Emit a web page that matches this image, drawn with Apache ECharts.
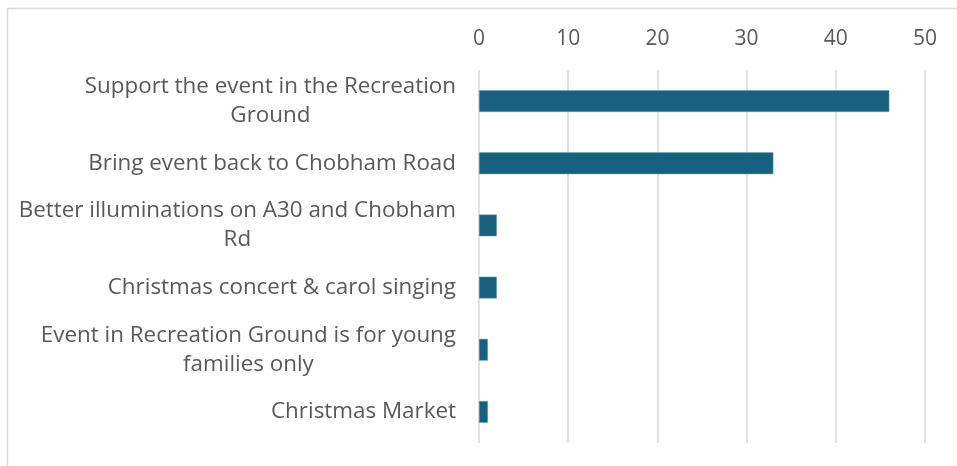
<!DOCTYPE html>
<html>
<head>
<meta charset="utf-8">
<script src="https://cdn.jsdelivr.net/npm/echarts@6/dist/echarts.min.js"></script>
<style>
  html, body { margin: 0; padding: 0; background: #fff; }
  #chart { width: 957px; height: 466px; }
</style>
</head>
<body>
<div id="chart"></div>
<script>
// categories top to bottom
const categories = [
  'Support the event in the Recreation\nGround',
  'Bring event back to Chobham Road',
  'Better illuminations on A30 and Chobham\nRd',
  'Christmas concert & carol singing',
  'Event in Recreation Ground is for young\nfamilies only',
  'Christmas Market'
];
const values = [46, 33, 2, 2, 1, 1];
const axisMin = 0;
const axisMax = 50;
const axisStep = 10;

const chart = echarts.init(document.getElementById('chart'));

const option = {
  animation: false,
  textStyle: { fontFamily: 'Open Sans' },
  graphic: [{
    type: 'rect',
    shape: { x: 7.5, y: 8.5, width: 1200, height: 1200 },
    style: { fill: 'none', stroke: '#d9d9d9', lineWidth: 1.5 },
    silent: true
  }],
  grid: { left: 479, right: 32, top: 70, bottom: 23 },
  xAxis: {
    type: 'value',
    position: 'top',
    min: axisMin,
    max: axisMax,
    interval: axisStep,
    axisLine: { show: false },
    axisTick: { show: false },
    splitLine: { lineStyle: { color: '#d9d9d9', width: 1.5 } },
    axisLabel: { color: '#595959', fontSize: 21, margin: 20 }
  },
  yAxis: {
    type: 'category',
    inverse: true,
    data: categories,
    axisLine: { show: false },
    axisTick: { show: false },
    axisLabel: {
      color: '#595959',
      fontSize: 22,
      margin: 23,
      lineHeight: 29,
      formatter: function (v) {
        return v.split('\n').map(s => '{c|' + s + '}').join('\n');
      },
      rich: {
        c: { align: 'center', color: '#595959', fontSize: 22.4, lineHeight: 29 }
      }
    }
  },
  series: [{
    type: 'bar',
    data: values,
    barWidth: '35%',
    itemStyle: { color: '#17607f', borderColor: '#6d9fb8', borderWidth: 0.5 }
  }]
};

chart.setOption(option);
</script>
</body>
</html>
